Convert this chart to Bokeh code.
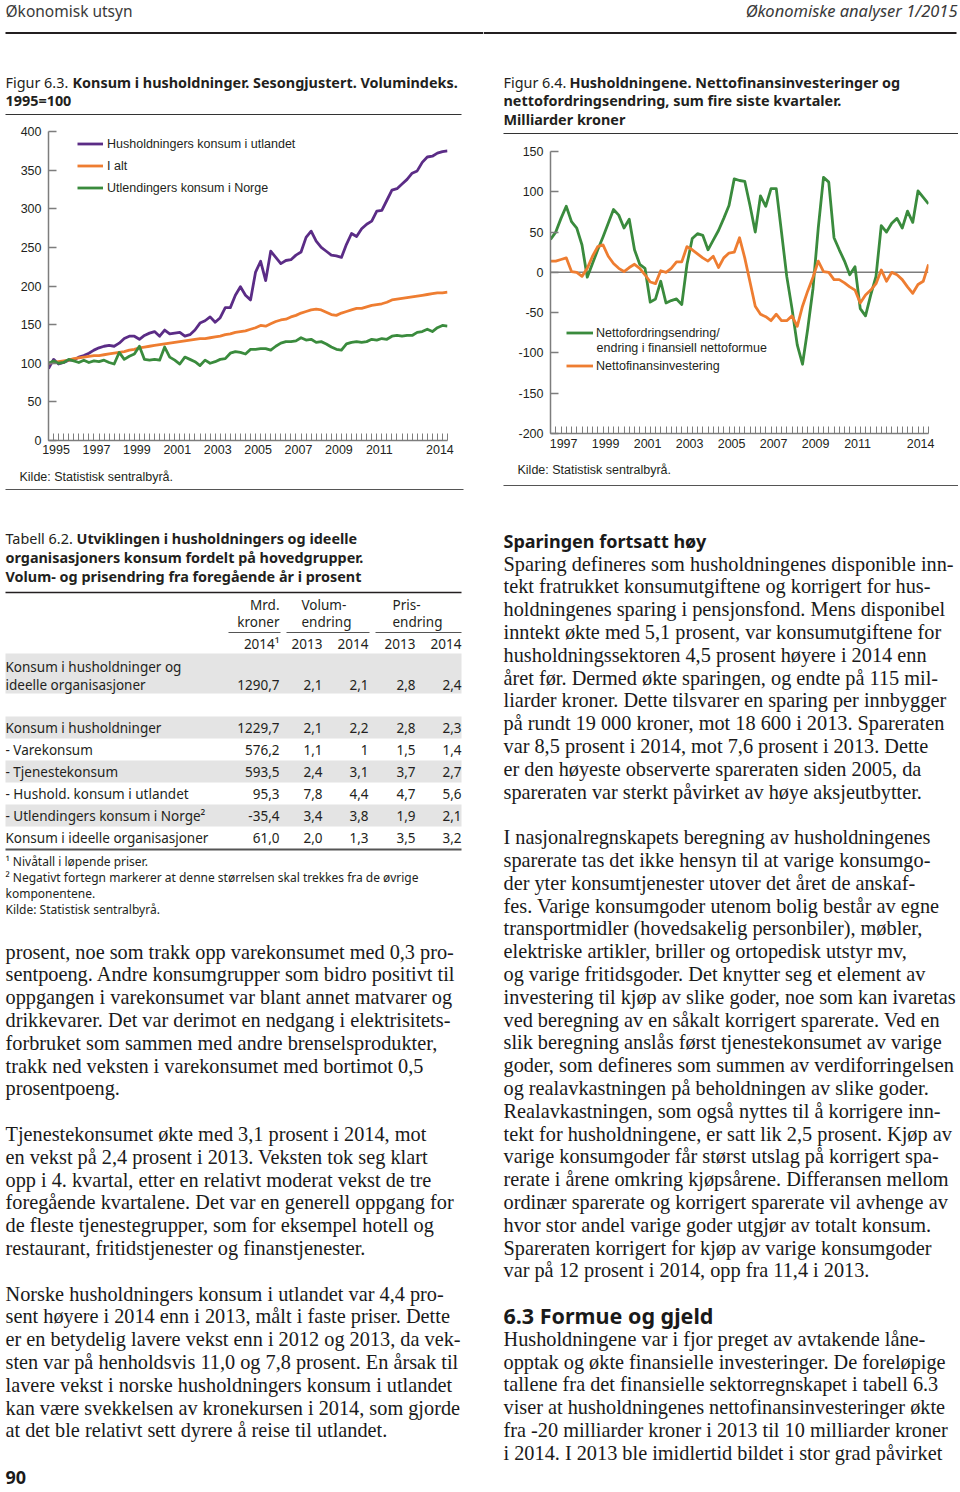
from bokeh.plotting import figure
from bokeh.models import Range1d, FixedTicker, Legend, LegendItem, Span, Label, PrintfTickFormatter
from bokeh.layouts import column, row
from bokeh.embed import file_html
from bokeh.resources import INLINE
from bokeh.core.properties import value

# ---------------- Figur 6.3: volumindeks 1995=100, kvartal 1995K1-2014K4 ----------------
fig63_first_year = 1995
hush_konsum_utland = [93, 105, 99, 101, 104, 104, 108, 110, 113, 117,
                      120, 122, 123, 122, 126, 132, 135, 135, 131, 136,
                      139, 141, 135, 143, 138, 139, 140, 135, 137, 143,
                      152, 155, 160, 153, 159, 172, 172, 188, 199, 188,
                      182, 218, 232, 207, 245, 237, 229, 233, 234, 240,
                      244, 263, 271, 258, 250, 245, 240, 239, 237, 254,
                      268, 264, 274, 280, 284, 297, 298, 311, 324, 326,
                      332, 338, 346, 349, 360, 367, 368, 372, 374, 375]
konsum_i_alt = [100, 101, 102, 103, 104, 106, 107, 108, 109, 110,
                110, 111, 112, 113, 114, 115, 117, 118, 120, 121,
                122, 123, 124, 125, 126, 127, 128, 129, 130, 131,
                132, 132, 133, 134, 135, 137, 138, 140, 141, 142,
                144, 146, 149, 148, 151, 154, 156, 157, 160, 162,
                165, 167, 169, 170, 169, 166, 163, 162, 165, 167,
                169, 171, 171, 173, 175, 176, 177, 179, 182, 183,
                184, 185, 186, 187, 188, 189, 190, 191, 191, 192]
utl_konsum_norge = [100, 103, 100, 101, 105, 103, 101, 104, 101, 103,
                    102, 104, 101, 99, 114, 105, 109, 112, 122, 105,
                    104, 105, 104, 121, 108, 104, 99, 108, 105, 102,
                    97, 104, 100, 102, 105, 106, 113, 115, 114, 112,
                    118, 118, 119, 119, 117, 122, 126, 128, 128, 129,
                    133, 130, 131, 127, 128, 125, 121, 118, 117, 125,
                    127, 128, 127, 128, 131, 130, 132, 131, 135, 136,
                    135, 136, 136, 140, 141, 144, 141, 146, 149, 148]
fig63_year_labels = [1995, 1997, 1999, 2001, 2003, 2005, 2007, 2009, 2011, 2014]
fig63_y_ticks = [0, 50, 100, 150, 200, 250, 300, 350, 400]

# ---------------- Figur 6.4: mrd. kroner, sum fire siste kvartaler, 1996K4-2014K4 ----------------
fig64_first_year, fig64_first_quarter = 1996, 4
nettofordringsendring = [41, 50, 67, 82, 63, 55, 34, -6, 11, 28,
                         44, 61, 78, 71, 55, 66, 28, 10, 5, -37,
                         -33, -11, -38, -35, -33, -40, 10, 42, 48, 46,
                         28, 40, 52, 67, 83, 116, 114, 113, 83, 50,
                         95, 82, 104, 104, 50, -5, -45, -90, -114, -70,
                         -20, 55, 118, 112, 43, 28, 14, -3, 7, -45,
                         -54, -28, -5, 58, 50, 61, 67, 55, 76, 62,
                         101, 93, 85]
nettofinansinvestering = [14, 14, 16, 18, 1, 0, -5, 5, 20, 32,
                          34, 20, 11, 5, 1, 6, 10, 5, -3, -12,
                          -14, 2, 0, 5, 13, 13, 32, 28, 23, 18,
                          14, 20, 6, 18, 24, 25, 43, 18, -12, -42,
                          -52, -55, -60, -52, -60, -60, -54, -67, -42, -23,
                          -6, 14, 1, 0, -9, -9, -13, -18, -22, -38,
                          -28, -22, -14, 3, -11, 0, -3, -9, -18, -26,
                          -15, -11, 10]
fig64_year_labels = [1997, 1999, 2001, 2003, 2005, 2007, 2009, 2011, 2014]
fig64_y_ticks = [-200, -150, -100, -50, 0, 50, 100, 150]

# ---------------- Tabell 6.2 ----------------
tab_rows = ["ideelle organisasjoner", "Konsum i husholdninger", "- Varekonsum", "- Tjenestekonsum",
            "- Hushold. konsum i utlandet", "- Utlendingers konsum i Norge\u00b2",
            "Konsum i ideelle organisasjoner"]
tab_mrd_kroner_2014 = ["1290,7", "1229,7", "576,2", "593,5", "95,3", "-35,4", "61,0"]
tab_volum_2013 = ["2,1", "2,1", "1,1", "2,4", "7,8", "3,4", "2,0"]
tab_volum_2014 = ["2,1", "2,2", "1", "3,1", "4,4", "3,8", "1,3"]
tab_pris_2013 = ["2,8", "2,8", "1,5", "3,7", "4,7", "1,9", "3,5"]
tab_pris_2014 = ["2,4", "2,3", "1,4", "2,7", "5,6", "2,1", "3,2"]

# ---------------- body text ----------------
left_lines = [
    "prosent, noe som trakk opp varekonsumet med 0,3 pro-",
    "sentpoeng. Andre konsumgrupper som bidro positivt til",
    "oppgangen i varekonsumet var blant annet matvarer og",
    "drikkevarer. Det var derimot en nedgang i elektrisitets-",
    "forbruket som sammen med andre brenselsprodukter,",
    "trakk ned veksten i varekonsumet med bortimot 0,5",
    "prosentpoeng.",
    "",
    "Tjenestekonsumet økte med 3,1 prosent i 2014, mot",
    "en vekst på 2,4 prosent i 2013. Veksten tok seg klart",
    "opp i 4. kvartal, etter en relativt moderat vekst de tre",
    "foregående kvartalene. Det var en generell oppgang for",
    "de fleste tjenestegrupper, som for eksempel hotell og",
    "restaurant, fritidstjenester og finanstjenester.",
    "",
    "Norske husholdningers konsum i utlandet var 4,4 pro-",
    "sent høyere i 2014 enn i 2013, målt i faste priser. Dette",
    "er en betydelig lavere vekst enn i 2012 og 2013, da vek-",
    "sten var på henholdsvis 11,0 og 7,8 prosent. En årsak til",
    "lavere vekst i norske husholdningers konsum i utlandet",
    "kan være svekkelsen av kronekursen i 2014, som gjorde",
    "at det ble relativt sett dyrere å reise til utlandet.",
]
right_lines = [
    "Sparing defineres som husholdningenes disponible inn-",
    "tekt fratrukket konsumutgiftene og korrigert for hus-",
    "holdningenes sparing i pensjonsfond. Mens disponibel",
    "inntekt økte med 5,1 prosent, var konsumutgiftene for",
    "husholdningssektoren 4,5 prosent høyere i 2014 enn",
    "året før. Dermed økte sparingen, og endte på 115 mil-",
    "liarder kroner. Dette tilsvarer en sparing per innbygger",
    "på rundt 19 000 kroner, mot 18 600 i 2013. Spareraten",
    "var 8,5 prosent i 2014, mot 7,6 prosent i 2013. Dette",
    "er den høyeste observerte spareraten siden 2005, da",
    "spareraten var sterkt påvirket av høye aksjeutbytter.",
    "",
    "I nasjonalregnskapets beregning av husholdningenes",
    "sparerate tas det ikke hensyn til at varige konsumgo-",
    "der yter konsumtjenester utover det året de anskaf-",
    "fes. Varige konsumgoder utenom bolig består av egne",
    "transportmidler (hovedsakelig personbiler), møbler,",
    "elektriske artikler, briller og ortopedisk utstyr mv,",
    "og varige fritidsgoder. Det knytter seg et element av",
    "investering til kjøp av slike goder, noe som kan ivaretas",
    "ved beregning av en såkalt korrigert sparerate. Ved en",
    "slik beregning anslås først tjenestekonsumet av varige",
    "goder, som defineres som summen av verdiforringelsen",
    "og realavkastningen på beholdningen av slike goder.",
    "Realavkastningen, som også nyttes til å korrigere inn-",
    "tekt for husholdningene, er satt lik 2,5 prosent. Kjøp av",
    "varige konsumgoder får størst utslag på korrigert spa-",
    "rerate i årene omkring kjøpsårene. Differansen mellom",
    "ordinær sparerate og korrigert sparerate vil avhenge av",
    "hvor stor andel varige goder utgjør av totalt konsum.",
    "Spareraten korrigert for kjøp av varige konsumgoder",
    "var på 12 prosent i 2014, opp fra 11,4 i 2013.",
    "",
    "",
    "Husholdningene var i fjor preget av avtakende låne-",
    "opptak og økte finansielle investeringer. De foreløpige",
    "tallene fra det finansielle sektorregnskapet i tabell 6.3",
    "viser at husholdningenes nettofinansinvesteringer økte",
    "fra -20 milliarder kroner i 2013 til 10 milliarder kroner",
    "i 2014. I 2013 ble imidlertid bildet i stor grad påvirket",
]

# ---------------- styles ----------------
PURPLE = "#5b2c86"
ORANGE = "#ee7d31"
GREEN = "#3a8b3d"
AXIS = "#7d7d7d"
INK = "#231f20"
SANS = "Noto Sans"
CHART = "Liberation Sans"
SERIF = "Liberation Serif"
TITLE = 14.4


def pix(x0, x1, y0, y1):
    p = figure(width=int(round(x1 - x0)), height=int(round(y1 - y0)),
               x_range=Range1d(x0, x1), y_range=Range1d(y1, y0),
               x_axis_type=None, y_axis_type=None, toolbar_location=None,
               output_backend="svg", min_border=0, outline_line_color=None,
               background_fill_color="white", border_fill_color="white")
    return p


def texts(p, xs, ys, ss, size, font=SANS, style="normal", color=INK, align="left", baseline="middle"):
    keep = [(x, y, s) for x, y, s in zip(xs, ys, ss) if s]
    p.text(x=[k[0] for k in keep], y=[k[1] for k in keep], text=[k[2] for k in keep],
           text_font=value(font), text_font_size=value(f"{size}px"),
           text_font_style=value(style), text_color=value(color),
           text_align=value(align), text_baseline=value(baseline))


def rule(p, x0, x1, y, w=1.2, color="#333333"):
    p.segment(x0=[x0], y0=[y], x1=[x1], y1=[y], line_color=color, line_width=w)


def chart(w, h, xr, yr, bl, br, bt, bb):
    p = figure(width=w, height=h, x_range=Range1d(*xr), y_range=Range1d(*yr),
               toolbar_location=None, output_backend="svg",
               min_border_left=bl, min_border_right=br, min_border_top=bt, min_border_bottom=bb,
               outline_line_color=None, background_fill_color="white", border_fill_color="white")
    p.xgrid.visible = False
    p.ygrid.visible = False
    return p


def style_axes(p, xticks, xminor, yticks, xstand, ystand):
    xa = p.xaxis[0]
    xa.ticker = FixedTicker(ticks=xticks, minor_ticks=xminor)
    xa.major_tick_in = 0
    xa.major_tick_out = 0
    xa.major_tick_line_color = None
    xa.minor_tick_in = 7
    xa.minor_tick_out = 0
    xa.minor_tick_line_color = AXIS
    xa.minor_tick_line_width = 1
    xa.axis_line_color = AXIS
    xa.axis_line_width = 1.5
    xa.major_label_standoff = xstand
    ya = p.yaxis[0]
    ya.ticker = FixedTicker(ticks=yticks)
    ya.formatter = PrintfTickFormatter(format="%d")
    ya.major_tick_in = 8
    ya.major_tick_out = 0
    ya.major_tick_line_color = AXIS
    ya.major_tick_line_width = 1.5
    ya.minor_tick_line_color = None
    ya.axis_line_color = AXIS
    ya.axis_line_width = 1.5
    ya.major_label_standoff = ystand
    for a in (xa, ya):
        a.major_label_text_font = CHART
        a.major_label_text_font_size = "12.5px"
        a.major_label_text_color = INK


def legend(p, items, loc, gw, spacing, standoff):
    lg = Legend(items=[LegendItem(label=l, renderers=[r]) for l, r in items],
                location=loc, orientation="vertical", glyph_width=gw, glyph_height=15,
                label_height=15, spacing=spacing, padding=0, margin=0,
                label_standoff=standoff, border_line_color=None, background_fill_alpha=0,
                label_text_font=CHART, label_text_font_size="12.5px", label_text_color=INK)
    p.add_layout(lg)


# quarter positions: year Y, quarter q -> Y + (q - 2.5)/4 so that the year label sits mid-year
x63 = [fig63_first_year + k // 4 + (k % 4 + 1 - 2.5) / 4 for k in range(len(hush_konsum_utland))]
q0 = fig64_first_quarter - 1
x64 = [fig64_first_year + (q0 + k) // 4 + ((q0 + k) % 4 + 1 - 2.5) / 4 for k in range(len(nettofordringsendring))]

# ---------------- Figur 6.3 ----------------
c1 = chart(483, 342, (x63[0], x63[-1]), (0, 400), 48, 36, 13, 20)
style_axes(c1, fig63_year_labels, x63, fig63_y_ticks, 4, 7)
r_p = c1.line(x63, hush_konsum_utland, line_color=PURPLE, line_width=2.8, line_join="round")
r_o = c1.line(x63, konsum_i_alt, line_color=ORANGE, line_width=2.8, line_join="round")
r_g = c1.line(x63, utl_konsum_norge, line_color=GREEN, line_width=2.8, line_join="round")
legend(c1, [("Husholdningers konsum i utlandet", r_p), ("I alt", r_o),
            ("Utlendingers konsum i Norge", r_g)], (29, 245), 26, 7, 4)

# ---------------- Figur 6.4 ----------------
c2 = chart(475, 324, (x64[0], x64[-1]), (-200, 150), 67, 30, 15, 27)
style_axes(c2, fig64_year_labels, x64, fig64_y_ticks, 5, 7)
c2.add_layout(Span(location=0, dimension="width", line_color=AXIS, line_width=1.5, level="underlay"))
r_g2 = c2.line(x64, nettofordringsendring, line_color=GREEN, line_width=2.8, line_join="round")
r_o2 = c2.line(x64, nettofinansinvestering, line_color=ORANGE, line_width=2.8, line_join="round")
legend(c2, [("Nettofordringsendring/", r_g2), ("Nettofinansinvestering", r_o2)], (16, 60), 27, 18, 3)
c2.add_layout(Label(x=1998.57, y=-93.3, text="endring i finansiell nettoformue",
                    text_font=CHART, text_font_size="12.5px", text_color=INK,
                    text_baseline="middle", text_align="left"))

# ---------------- top-left: page header + figure 6.3 title ----------------
tl = pix(0, 483, 0, 118)
texts(tl, [5], [10], ["Økonomisk utsyn"], 15.5, color="#3a3a3a")
rule(tl, 5, 483, 32.5, w=2, color=INK)
texts(tl, [5], [82], ["Figur 6.3."], TITLE)
texts(tl, [72, 5], [82, 100], ["Konsum i husholdninger. Sesongjustert. Volumindeks.", "1995=100"],
      TITLE, style="bold")
rule(tl, 5, 461, 114)

# ---------------- top-right: page header + figure 6.4 title ----------------
tr = pix(483, 958, 0, 136)
texts(tr, [957], [10], ["Økonomiske analyser 1/2015"], 16.5, style="italic", color="#3a3a3a",
      align="right")
rule(tr, 483, 956, 32.5, w=2, color=INK)
texts(tr, [503], [82], ["Figur 6.4."], TITLE)
texts(tr, [569, 503, 503], [82, 100, 119],
      ["Husholdningene. Nettofinansinvesteringer og",
       "nettofordringsendring, sum fire siste kvartaler.", "Milliarder kroner"], TITLE, style="bold")
rule(tr, 503, 958, 133)

# ---------------- captions under charts ----------------
bl = pix(0, 483, 460, 504)
texts(bl, [19], [476], ["Kilde: Statistisk sentralbyrå."], 12.5, font=CHART)
rule(bl, 5, 463, 489, w=1.2, color="#555555")
br = pix(483, 958, 460, 504)
texts(br, [517], [469], ["Kilde: Statistisk sentralbyrå."], 12.5, font=CHART)
rule(br, 503, 958, 485, w=1.2, color="#555555")

# ---------------- body: table + text ----------------
body = pix(0, 958, 504, 1490)
texts(body, [5], [538], ["Tabell 6.2."], TITLE)
texts(body, [76, 5, 5], [538, 557, 576],
      ["Utviklingen i husholdningers og ideelle",
       "organisasjoners konsum fordelt på hovedgrupper.",
       "Volum- og prisendring fra foregående år i prosent"], TITLE, style="bold")
rule(body, 5, 461, 592, w=1.3, color=INK)

TS = 13.5
texts(body, [279, 279], [604, 621], ["Mrd.", "kroner"], TS, align="right")
texts(body, [301, 301, 392, 392], [604, 621, 604, 621], ["Volum-", "endring", "Pris-", "endring"], TS)
for a, b in [(228, 280), (286, 369), (375, 461)]:
    rule(body, a, b, 632, w=1, color="#555555")
col_right = [279, 322, 368, 415, 461]
texts(body, col_right, [643] * 5, ["2014\u00b9", "2013", "2014", "2013", "2014"], TS, align="right")

row_y = [684] + [727 + 22 * k for k in range(len(tab_rows) - 1)]
body.quad(left=[5], right=[461], top=[653], bottom=[693], fill_color="#e4e4e4", line_color=None)
for k in (1, 3, 5):
    body.quad(left=[5], right=[461], top=[row_y[k] - 11], bottom=[row_y[k] + 11],
              fill_color="#e4e4e4", line_color=None)
texts(body, [5], [666], ["Konsum i husholdninger og"], TS)
texts(body, [5] * len(tab_rows), row_y, tab_rows, TS)
for xr_, col in zip(col_right, [tab_mrd_kroner_2014, tab_volum_2013, tab_volum_2014,
                                tab_pris_2013, tab_pris_2014]):
    texts(body, [xr_] * len(col), row_y, col, TS, align="right")
rule(body, 5, 461, 849, w=2.2, color="#555555")
texts(body, [5, 5, 5, 5], [861, 877, 893, 909],
      ["\u00b9 Nivåtall i løpende priser.",
       "\u00b2 Negativt fortegn markerer at denne størrelsen skal trekkes fra de øvrige",
       "komponentene.", "Kilde: Statistisk sentralbyrå."], 12)

LH = 22.8
BODY = 20.3
texts(body, [5] * len(left_lines), [951 + LH * k for k in range(len(left_lines))], left_lines, BODY,
      font=SERIF, color="#1a1a1a")
texts(body, [503] * len(right_lines), [563 + LH * k for k in range(len(right_lines))], right_lines, BODY,
      font=SERIF, color="#1a1a1a")
texts(body, [503], [563 - LH], ["Sparingen fortsatt høy"], 18, style="bold", color="#1a1a1a")
texts(body, [503], [563 + LH * 33], ["6.3 Formue og gjeld"], 21.5, style="bold", color="#1a1a1a")
texts(body, [5], [1477], ["90"], 18, style="bold", color="#1a1a1a")

left_col = column(row(tl), row(c1), row(bl))
right_col = column(row(tr), row(c2), row(br))
layout = column(row(left_col, right_col), body)
open("out.html", "w").write(file_html(layout, INLINE))
